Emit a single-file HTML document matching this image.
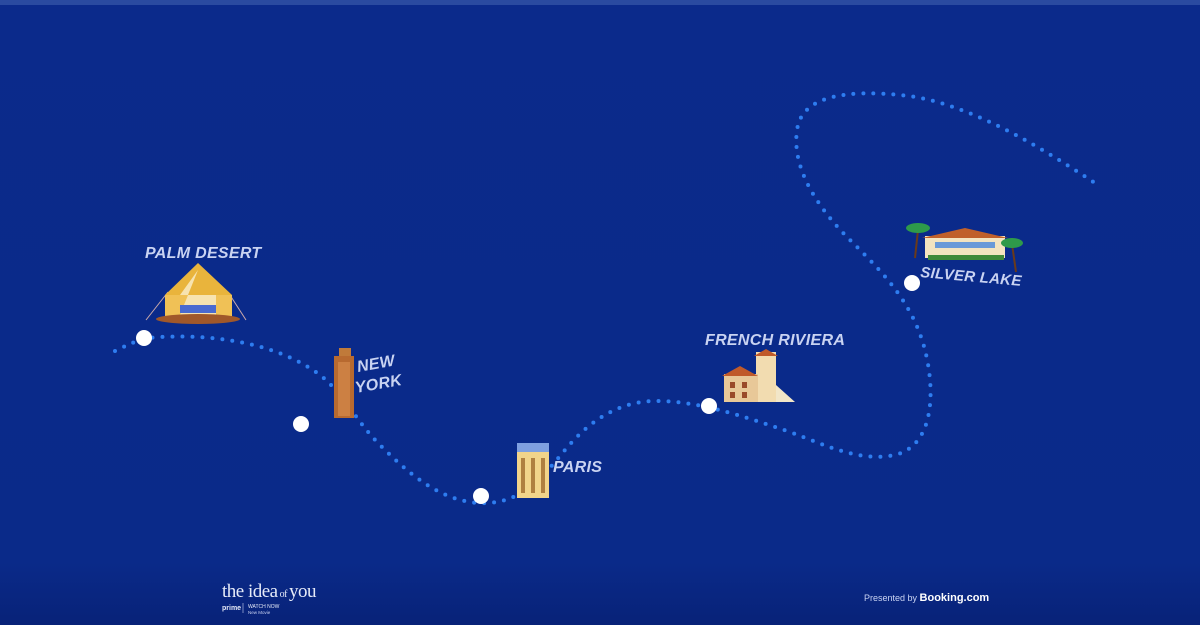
<!DOCTYPE html>
<html><head><meta charset="utf-8"><style>
html,body{margin:0;padding:0;width:1200px;height:625px;overflow:hidden;background:#0a2a8a;}
svg{display:block}
.lbl{font-family:"Liberation Sans",sans-serif;font-style:italic;font-weight:bold;fill:#c9d3f2;font-size:16px;letter-spacing:0.3px}
</style></head><body>
<svg width="1200" height="625" viewBox="0 0 1200 625">
<defs>
<linearGradient id="bg" x1="0" y1="0" x2="0" y2="1"><stop offset="0" stop-color="#0b2a8b"/><stop offset="0.9" stop-color="#0a2a89"/><stop offset="1" stop-color="#082278"/></linearGradient>
</defs>
<rect width="1200" height="625" fill="url(#bg)"/>
<rect width="1200" height="5" fill="#2a4aa0"/>
<path d="M115,351 C130,344 140,338 160,337 C220,334 280,345 320,375 C345,395 355,420 380,445 C410,475 440,500 478,503 C520,505 540,480 565,450 C590,420 620,400 660,401 C700,402 740,415 790,432 C830,447 860,462 895,455 C935,445 935,390 925,350 C912,300 880,270 850,240 C810,200 790,160 798,125 C806,95 850,90 900,95 C960,100 1030,140 1095,183" fill="none" stroke="#2e7df0" stroke-width="4" stroke-linecap="round" stroke-dasharray="0 10"/>
<g fill="#fff">
<circle cx="144" cy="338" r="8"/><circle cx="301" cy="424" r="8"/><circle cx="481" cy="496" r="8"/><circle cx="709" cy="406" r="8"/><circle cx="912" cy="283" r="8"/>
</g>
<g>
<line x1="146" y1="320" x2="168" y2="292" stroke="#caa" stroke-width="1"/><line x1="246" y1="320" x2="228" y2="292" stroke="#caa" stroke-width="1"/>
<polygon points="198,263 165,295 232,295" fill="#e9b43c"/>
<rect x="165" y="295" width="67" height="22" fill="#f0c156"/>
<polygon points="198,270 180,295 216,295 216,315 180,315" fill="#f7e3b0"/>
<rect x="180" y="305" width="36" height="8" fill="#4a6ad0"/>
<ellipse cx="198" cy="319" rx="42" ry="5" fill="#a0582a"/>
</g>
<text class="lbl" x="145" y="258">PALM DESERT</text>
<rect x="339" y="348" width="12" height="10" fill="#c07a3a"/>
<rect x="334" y="356" width="20" height="62" fill="#b86a30"/>
<rect x="338" y="362" width="12" height="54" fill="#d89050" opacity="0.6"/>
<text class="lbl" x="358" y="372" transform="rotate(-10 358 372)">NEW</text>
<text class="lbl" x="356" y="393" transform="rotate(-10 356 393)">YORK</text>
<rect x="517" y="443" width="32" height="10" fill="#7fa0e0"/>
<rect x="517" y="452" width="32" height="46" fill="#f2d48a"/>
<g fill="#b08040"><rect x="521" y="458" width="4" height="35"/><rect x="531" y="458" width="4" height="35"/><rect x="541" y="458" width="4" height="35"/></g>
<text class="lbl" x="553" y="472">PARIS</text>
<rect x="756" y="352" width="20" height="50" fill="#f2dcb0"/>
<polygon points="754,356 766,349 778,356" fill="#c05a2a"/>
<rect x="724" y="374" width="34" height="28" fill="#e8c898"/>
<polygon points="722,376 740,366 758,376" fill="#c05a2a"/>
<polygon points="776,385 795,402 776,402" fill="#f2e6c8"/>
<g fill="#9a4a2a"><rect x="730" y="382" width="5" height="6"/><rect x="742" y="382" width="5" height="6"/><rect x="730" y="392" width="5" height="6"/><rect x="742" y="392" width="5" height="6"/></g>
<text class="lbl" x="705" y="345">FRENCH RIVIERA</text>
<rect x="925" y="236" width="80" height="22" fill="#f3e4c0"/>
<polygon points="922,238 965,228 1008,238" fill="#c0602a"/>
<rect x="935" y="242" width="60" height="6" fill="#6a9ad8"/>
<rect x="928" y="255" width="76" height="5" fill="#3f8a3a"/>
<g stroke="#6a3a1a" stroke-width="2"><line x1="918" y1="230" x2="915" y2="258"/><line x1="1012" y1="244" x2="1016" y2="272"/></g>
<g fill="#2e9a4a"><ellipse cx="918" cy="228" rx="12" ry="5"/><ellipse cx="1012" cy="243" rx="11" ry="5"/></g>
<text class="lbl" x="920" y="277" transform="rotate(5 920 277)" style="font-size:15px">SILVER LAKE</text>
<text x="222" y="597" font-family="Liberation Serif,serif" font-size="19" fill="#e6ebf8" letter-spacing="-0.5">the idea<tspan font-size="10"> of </tspan>you</text>
<text x="222" y="610" font-family="Liberation Sans,sans-serif" font-size="7" font-weight="bold" fill="#e6ebf8">prime</text>
<line x1="243" y1="603" x2="243" y2="613" stroke="#c9d3f2" stroke-width="0.6"/>
<text x="248" y="608" font-family="Liberation Sans,sans-serif" font-size="5" fill="#e6ebf8">WATCH NOW</text>
<text x="248" y="614" font-family="Liberation Sans,sans-serif" font-size="4.5" fill="#c9d3f2">New Movie</text>
<text x="864" y="601" font-family="Liberation Sans,sans-serif" font-size="9" fill="#c9d3f2">Presented by <tspan font-weight="bold" font-size="11" fill="#fff">Booking.com</tspan></text>
</svg>
</body></html>
